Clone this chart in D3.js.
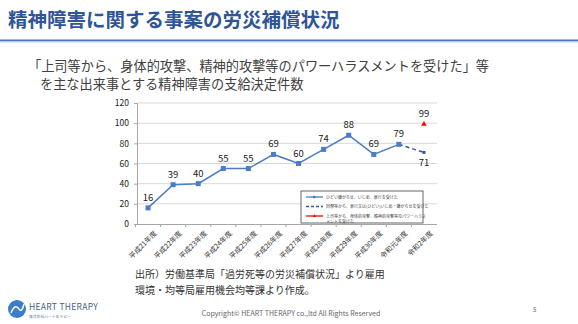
<!DOCTYPE html>
<html>
<head>
<meta charset="utf-8">
<script src="https://cdn.jsdelivr.net/npm/d3@7"></script>
<style>
  body { margin: 0; background: #fff; }
  text { font-family: "Noto Sans CJK JP", "Noto Sans", sans-serif; }
</style>
</head>
<body>
<script>
const categories = ['平成21年度', '平成22年度', '平成23年度', '平成24年度', '平成25年度', '平成26年度',
  '平成27年度', '平成28年度', '平成29年度', '平成30年度', '令和元年度', '令和2年度'];
// ひどい嫌がらせ、いじめ、暴行を受けた
const bullying = [16, 39, 40, 55, 55, 69, 60, 74, 88, 69, 79];
// 同僚等から...（令和元年度→令和2年度）
const coworker = [
  { cat: '令和元年度', value: 79 },
  { cat: '令和2年度', value: 71 }
];
// 上司等から、パワーハラスメントを受けた
const powerHarassment = [{ cat: '令和2年度', value: 99 }];
const yTicks = [0, 20, 40, 60, 80, 100, 120];
const legendLabels = [
  'ひどい嫌がらせ、いじめ、暴行を受けた',
  '同僚等から、暴行又は(ひどい)いじめ・嫌がらせを受けた',
  '上司等から、身体的攻撃、精神的攻撃等のパワーハラス|メントを受けた'
];

window.onload = () => {
  const width = 578, height = 324;
  const svg = d3.select('body').append('svg')
    .attr('width', width).attr('height', height);

  // header
  svg.append('text').attr('x', 8).attr('y', 27)
    .attr('font-size', 19.5).attr('font-weight', 'bold').attr('fill', '#2F5597')
    .text('精神障害に関する事案の労災補償状況');
  svg.append('rect').attr('x', 0).attr('y', 39.5).attr('width', width).attr('height', 2)
    .attr('fill', '#4C74C0');
  svg.append('rect').attr('x', 0).attr('y', 41.5).attr('width', width).attr('height', 1)
    .attr('fill', '#C9D5EC');

  svg.append('text').attr('x', 28).attr('y', 71)
    .attr('font-size', 13.2).attr('fill', '#404040')
    .text('「上司等から、身体的攻撃、精神的攻撃等のパワーハラスメントを受けた」等');
  svg.append('text').attr('x', 40).attr('y', 89)
    .attr('font-size', 13.2).attr('fill', '#404040')
    .text('を主な出来事とする精神障害の支給決定件数');

  // chart
  const x = d3.scaleBand().domain(categories).range([135.5, 436.5]);
  const y = d3.scaleLinear().domain([0, 120]).range([224, 103]);
  const cx = c => x(c) + x.bandwidth() / 2;

  const g = svg.append('g');
  g.selectAll('.grid').data(yTicks.slice(1)).join('line')
    .attr('x1', 137).attr('x2', 437)
    .attr('y1', d => y(d)).attr('y2', d => y(d))
    .attr('stroke', '#D9D9D9').attr('stroke-width', 1);

  const yAxis = g.append('g').attr('transform', 'translate(137,0)')
    .call(d3.axisLeft(y).tickValues(yTicks).tickSize(3).tickPadding(5));
  yAxis.select('.domain').attr('stroke', '#A6A6A6');
  yAxis.selectAll('.tick line').attr('stroke', '#A6A6A6');
  yAxis.selectAll('text').attr('font-size', 8.5).attr('fill', '#222')
    .attr('font-family', '"Liberation Sans", Arial, sans-serif');

  const xAxis = g.append('g').attr('transform', `translate(0,${y(0)})`)
    .call(d3.axisBottom(x).tickSize(0).tickPadding(6));
  xAxis.select('.domain').attr('stroke', '#A6A6A6');
  xAxis.selectAll('text').attr('font-size', 7).attr('fill', '#333')
    .attr('text-anchor', 'end')
    .attr('transform', 'rotate(-45)')
    .attr('dx', '-0.5').attr('dy', '7.5');
  // category separator ticks
  g.selectAll('.sep').data(categories).join('line')
    .attr('x1', d => x(d)).attr('x2', d => x(d))
    .attr('y1', y(0)).attr('y2', y(0) + 3)
    .attr('stroke', '#A6A6A6');

  const line = d3.line().x((d, i) => cx(categories[i])).y(d => y(d));
  g.append('path').datum(bullying).attr('d', line)
    .attr('fill', 'none').attr('stroke', '#4A7DC4').attr('stroke-width', 1.5);

  const dline = d3.line().x(d => cx(d.cat)).y(d => y(d.value));
  g.append('path').datum(coworker).attr('d', dline)
    .attr('fill', 'none').attr('stroke', '#2E5C9E').attr('stroke-width', 1.5)
    .attr('stroke-dasharray', '4,3');

  g.selectAll('.m1').data(bullying).join('rect')
    .attr('x', (d, i) => cx(categories[i]) - 2.5).attr('y', d => y(d) - 2.5)
    .attr('width', 5).attr('height', 5).attr('fill', '#4A7DC4');
  g.append('rect').attr('x', cx(coworker[1].cat) - 1.5).attr('y', y(coworker[1].value) - 1.5)
    .attr('width', 3).attr('height', 3).attr('fill', '#2E5C9E');

  g.selectAll('.tri').data(powerHarassment).join('path')
    .attr('d', d3.symbol(d3.symbolTriangle, 14))
    .attr('transform', d => `translate(${cx(d.cat)},${y(d.value)})`)
    .attr('fill', '#FF0000');

  // data labels
  const labelFont = '"Liberation Sans", Arial, sans-serif';
  g.selectAll('.lbl').data(bullying).join('text')
    .attr('x', (d, i) => cx(categories[i])).attr('y', d => y(d) - 7)
    .attr('text-anchor', 'middle').attr('font-size', 9.5).attr('fill', '#222')
    .attr('font-family', labelFont).text(d => d);
  g.append('text').attr('x', cx(coworker[1].cat)).attr('y', y(coworker[1].value) + 14)
    .attr('text-anchor', 'middle').attr('font-size', 9.5).attr('fill', '#222')
    .attr('font-family', labelFont).text(coworker[1].value);
  g.selectAll('.lbl3').data(powerHarassment).join('text')
    .attr('x', d => cx(d.cat)).attr('y', d => y(d.value) - 7)
    .attr('text-anchor', 'middle').attr('font-size', 9.5).attr('fill', '#222')
    .attr('font-family', labelFont).text(d => d.value);

  // legend
  const lg = svg.append('g').attr('transform', 'translate(301,191)');
  lg.append('rect').attr('width', 122).attr('height', 32)
    .attr('fill', '#fff').attr('stroke', '#404040').attr('stroke-width', 0.8);
  const legendStyles = [
    { color: '#4A7DC4', dash: null, marker: 'sq' },
    { color: '#2E5C9E', dash: '3,2', marker: null },
    { color: '#FF0000', dash: null, marker: 'tri' }
  ];
  legendLabels.forEach((lab, i) => {
    const ly = 6 + i * 9.5;
    const s = legendStyles[i];
    lg.append('line').attr('x1', 5).attr('x2', 22).attr('y1', ly).attr('y2', ly)
      .attr('stroke', s.color).attr('stroke-width', 1.3)
      .attr('stroke-dasharray', s.dash);
    if (s.marker === 'sq') lg.append('rect').attr('x', 12).attr('y', ly - 1.2).attr('width', 2.4).attr('height', 2.4).attr('fill', s.color);
    if (s.marker === 'tri') lg.append('path').attr('d', d3.symbol(d3.symbolTriangle, 4)).attr('transform', `translate(13.5,${ly})`).attr('fill', s.color);
    lab.split('|').forEach((t, k) => {
      lg.append('text').attr('x', 25).attr('y', ly + 1.5 + k * 5)
        .attr('font-size', 4).attr('fill', '#404040').text(t);
    });
  });

  // source
  svg.append('text').attr('x', 135).attr('y', 278)
    .attr('font-size', 10).attr('fill', '#333')
    .text('出所）労働基準局「過労死等の労災補償状況」より雇用');
  svg.append('text').attr('x', 135).attr('y', 294)
    .attr('font-size', 10).attr('fill', '#333')
    .text('環境・均等局雇用機会均等課より作成。');

  // footer
  svg.append('circle').attr('cx', 17).attr('cy', 309).attr('r', 9).attr('fill', '#3C7DC8');
  svg.append('path').attr('d', 'M11,313 Q15,303 19,309 Q22,313 24,304')
    .attr('fill', 'none').attr('stroke', '#fff').attr('stroke-width', 1.5);
  svg.append('text').attr('x', 29).attr('y', 310)
    .attr('font-size', 8.5).attr('fill', '#3F5F85')
    .attr('font-family', '"Liberation Serif", serif').attr('letter-spacing', 0.3)
    .text('HEART THERAPY');
  svg.append('text').attr('x', 29).attr('y', 318)
    .attr('font-size', 3.8).attr('fill', '#5A6F8A')
    .text('株式会社ハートセラピー');
  svg.append('text').attr('x', 291).attr('y', 316)
    .attr('text-anchor', 'middle').attr('font-size', 7).attr('fill', '#666')
    .attr('font-family', '"Open Sans", sans-serif')
    .text('Copyright© HEART THERAPY co.,ltd All Rights Reserved');
  svg.append('text').attr('x', 533).attr('y', 312)
    .attr('font-size', 6).attr('fill', '#666').text('5');
};
</script>
</body>
</html>
